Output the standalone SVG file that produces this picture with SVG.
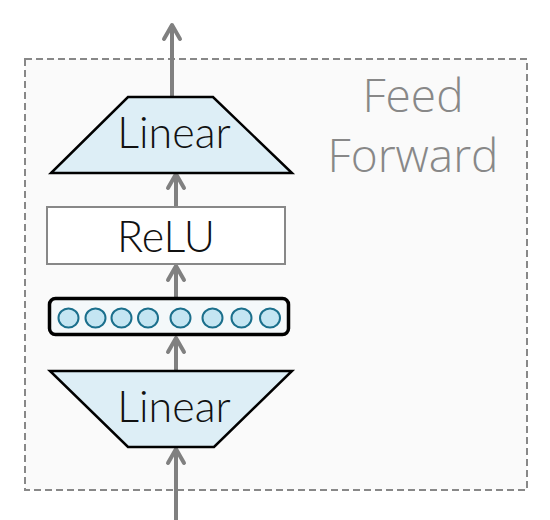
<svg xmlns="http://www.w3.org/2000/svg" width="550" height="520" viewBox="0 0 550 520">
  <style>
    .lbl { font-family: Lato, "Open Sans", "Liberation Sans", sans-serif; font-weight: 300; font-size: 43px; fill: #111; text-anchor: middle; }
    .title { font-family: "Open Sans", Lato, "Liberation Sans", sans-serif; font-weight: 300; font-size: 46px; fill: #888; text-anchor: middle; }
    .trap { fill: #ddeef6; stroke: #000; stroke-width: 2.5; stroke-linejoin: miter; }
    .conn { stroke: #808080; stroke-width: 4; fill: none; marker-end: url(#ah); }
    .unit { fill: #c4e5f2; stroke: #1b6f8c; stroke-width: 2; }
  </style>
  <defs>
    <marker id="ah" markerUnits="userSpaceOnUse" markerWidth="30" markerHeight="30" viewBox="-20 -15 30 30" refX="0" refY="0" orient="auto">
      <path d="M-14,-8 L0,0 L-14,8" fill="none" stroke="#808080" stroke-width="4" stroke-linecap="round" stroke-linejoin="round"/>
    </marker>
  </defs>
  <rect width="550" height="520" fill="#ffffff"/>
  <g id="feedforward-group">
    <rect x="25" y="59" width="502" height="431" fill="#fafafa" stroke="#888" stroke-width="2" stroke-dasharray="7,4"/>
    <text class="title" x="413" y="112">Feed</text>
    <text class="title" x="413" y="172">Forward</text>
  </g>
  <g id="connectors">
    <line class="conn" x1="172" y1="97" x2="172" y2="25"/>
    <line class="conn" x1="176" y1="207" x2="176" y2="174"/>
    <line class="conn" x1="176" y1="297" x2="176" y2="266"/>
    <line class="conn" x1="176" y1="371" x2="176" y2="338"/>
    <line class="conn" x1="176" y1="520" x2="176" y2="449"/>
  </g>
  <g id="linear-top">
    <polygon class="trap" points="128,97 213,97 292,173 51,173"/>
    <text class="lbl" x="174" y="148">Linear</text>
  </g>
  <g id="relu">
    <rect x="47" y="207" width="238" height="57" fill="#fff" stroke="#888" stroke-width="2"/>
    <text class="lbl" x="166" y="252">ReLU</text>
  </g>
  <g id="hidden-vector">
    <rect x="49.5" y="298.5" width="239" height="36" rx="6" fill="#f4f8fa" stroke="#000" stroke-width="3.5"/>
    <ellipse class="unit" cx="68.5" cy="318" rx="10" ry="9.5"/>
    <ellipse class="unit" cx="95.5" cy="318" rx="10" ry="9.5"/>
    <ellipse class="unit" cx="121.5" cy="318" rx="10" ry="9.5"/>
    <ellipse class="unit" cx="148" cy="318" rx="10" ry="9.5"/>
    <ellipse class="unit" cx="180.5" cy="318" rx="10" ry="9.5"/>
    <ellipse class="unit" cx="212.5" cy="318" rx="10" ry="9.5"/>
    <ellipse class="unit" cx="241.5" cy="318" rx="10" ry="9.5"/>
    <ellipse class="unit" cx="270" cy="318" rx="10" ry="9.5"/>
  </g>
  <g id="linear-bottom">
    <polygon class="trap" points="50,371 292,371 214,447 128,447"/>
    <text class="lbl" x="174" y="422">Linear</text>
  </g>
</svg>
